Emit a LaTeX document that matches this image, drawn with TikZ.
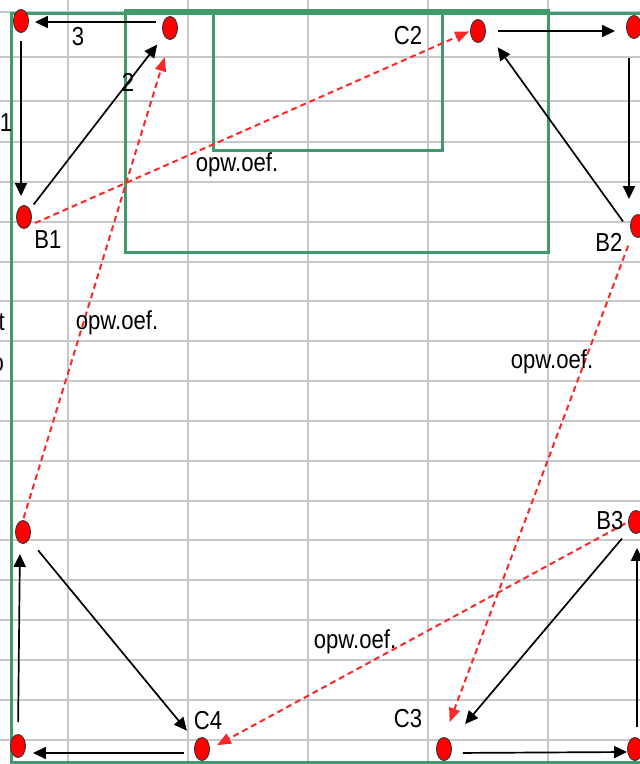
\documentclass[tikz,border=0pt]{standalone}
\usepackage{fontspec}
\setmainfont{Liberation Sans}
\newfontfamily\lblfont[FakeStretch=0.85]{Liberation Sans}
\usepackage{tikz}
\usetikzlibrary{arrows.meta,shapes}
\definecolor{cellgrey}{RGB}{200,200,200}
\definecolor{boxgreen}{RGB}{64,154,108}
\definecolor{dashred}{RGB}{250,40,40}

\begin{document}
\begin{tikzpicture}[x=1pt,y=-1pt,
  dot/.style={draw=black!80,ellipse,fill=red,minimum width=15pt,minimum height=23pt,inner sep=0pt,line width=.9pt},
  lbl/.style={font=\lblfont\fontsize{26}{26}\selectfont,inner sep=0pt},
  flow/.style={-{Triangle[length=13pt,width=12pt]},line width=1.7pt},
  back/.style={-{Triangle[length=14pt,width=11pt]},dashred,dash pattern=on 6pt off 4pt,line width=2pt},
  cell/.style={cellgrey,line width=1.5pt},
  frame/.style={boxgreen,line width=3pt}]
\clip (0,0) rectangle (640,764);
\fill[white] (0,0) rectangle (640,764);
\foreach \x in {68,188,308,428,548} \draw[cell] (\x,0) -- (\x,764);
\foreach \y in {12,57,101,142,182,222,262,301,341,381,421,461,501,540,580,620,660,700,740} \draw[cell] (0,\y) -- (640,\y);
\draw[frame] (11,13) rectangle (660,762);
\draw[frame] (125,10) rectangle (548,252);
\draw[frame] (213,10) rectangle (442,150);
\node[dot] (b1a) at (21,21) {};
\node[dot] (b1b) at (170,28) {};
\node[dot] (b1) at (24,217) {};
\node[dot] (c2) at (478,31) {};
\node[dot] (b2a) at (634,27) {};
\node[dot] (b2) at (638,226) {};
\node[dot] (b3) at (636,522) {};
\node[dot] (c3) at (444,749) {};
\node[dot] (b3a) at (635,749) {};
\node[dot] (c4b) at (23,532) {};
\node[dot] (c4a) at (18,746) {};
\node[dot] (c4) at (202,749) {};
\draw[back,shorten <=6pt,shorten >=1pt] (b1.south east) -- (c2.west);
\draw[back,shorten <=2pt,shorten >=18pt] (c4b.north) -- (b1b.south);
\draw[back,shorten <=12pt,shorten >=16pt] (b2.south west) -- (c3.north);
\draw[back,shorten <=3pt,shorten >=8pt] (b3.west) -- (c4.east);
\draw[flow,shorten <=6pt,shorten >=6pt] ([yshift=6pt]b1b.west) -- ([yshift=-1pt]b1a.east);
\draw[flow,shorten <=8pt,shorten >=9pt] (b1a.south) -- (b1a.south |- b1.north);
\draw[flow,shorten <=6pt,shorten >=11pt] (b1) -- (b1b);
\draw[flow,shorten <=12pt,shorten >=11pt] (c2.east) -- (c2.east -| b2a.west);
\draw[flow,shorten <=19pt,shorten >=15pt] ([xshift=-5pt]b2a.south) -- ([xshift=-5pt]b2a.south |- b2.north);
\draw[flow,shorten <=16pt,shorten >=20pt] (b2.south west) -- (c2.east);
\draw[flow,shorten <=12pt,shorten >=23pt] (b3) -- (c3);
\draw[flow,shorten <=11pt] ([yshift=-4pt]c3.east) -- ([yshift=-3pt]b3a.west);
\draw[flow,shorten <=10pt,shorten >=14pt] ([xshift=2pt]b3a.north) -- ([xshift=2pt]b3a.north |- b3.south);
\draw[flow,shorten <=14pt,shorten >=14pt] (c4b) -- (c4);
\draw[flow,shorten <=10pt,shorten >=7pt] ([yshift=-4pt]c4.west) -- ([yshift=-4pt]c4.west -| c4a.east);
\draw[flow,shorten <=12pt,shorten >=10pt] (c4a.north) -- ([xshift=-3pt]c4b.south);
\node[lbl] (t3) at (78,37) {3};
\node[lbl] (t1) at (6,123) {1};
\node[lbl] (t2) at (128,82) {2};
\node[lbl] (lb1) at (48,240) {B1};
\node[lbl] (lc2) at (408,36) {C2};
\node[lbl] (lb2) at (609,242) {B2};
\node[lbl] (lb3) at (610,521) {B3};
\node[lbl] (lc4) at (208,721) {C4};
\node[lbl] (lc3) at (408,719) {C3};
\node[lbl] (o1) at (237,165) {opw.oef.};
\node[lbl] (o2) at (117,323) {opw.oef.};
\node[lbl] (o3) at (552,362) {opw.oef.};
\node[lbl] (o4) at (355,642) {opw.oef.};
\node[lbl,anchor=east] (cut1) at (5,322) {t};
\node[lbl,anchor=east] (cut2) at (4,365) {o};
\end{tikzpicture}
\end{document}
